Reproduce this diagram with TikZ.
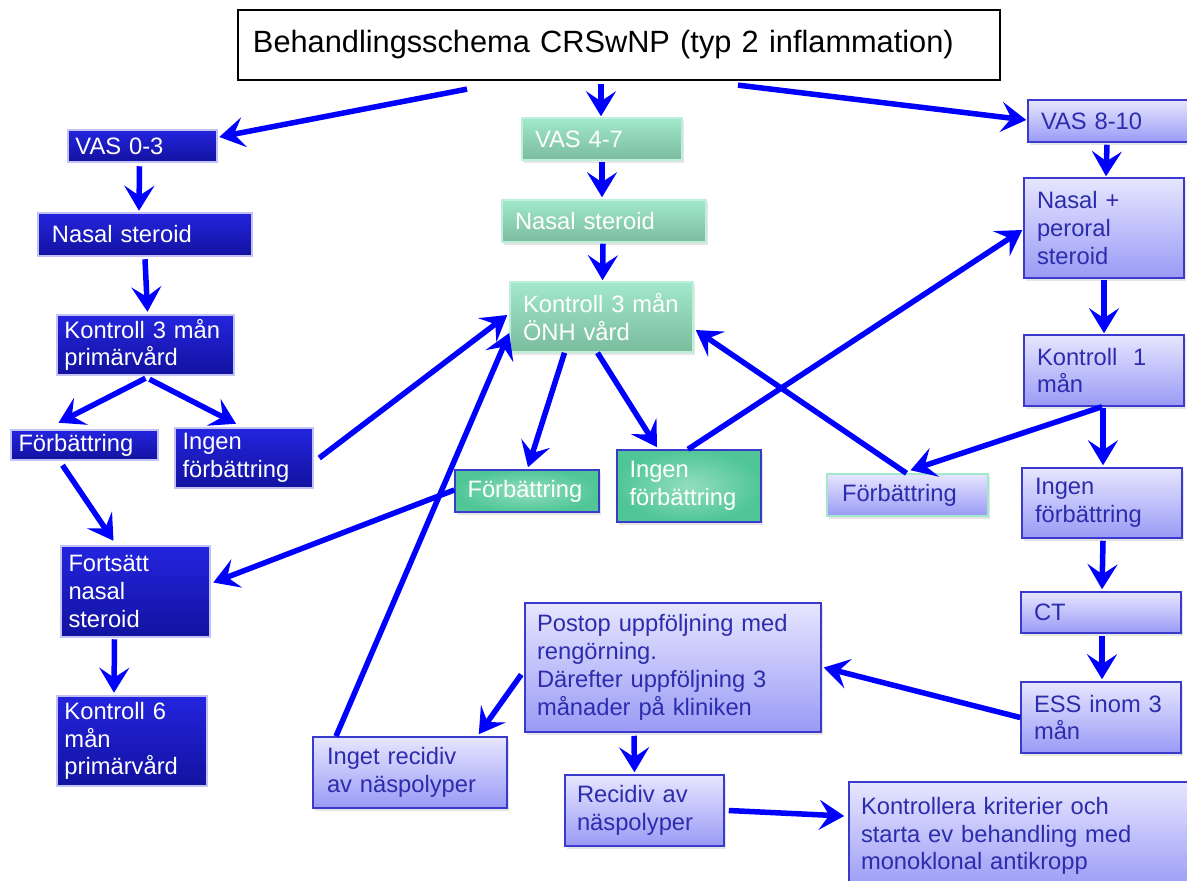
\documentclass[tikz,border=0pt]{standalone}
\usepackage{fontspec}
\setmainfont{Liberation Sans}
\usetikzlibrary{arrows.meta,calc,shadows}

\definecolor{navyTop}{RGB}{36,36,222}
\definecolor{navyBot}{RGB}{18,18,160}
\definecolor{mintTop}{RGB}{162,232,204}
\definecolor{mintBot}{RGB}{122,188,156}
\definecolor{jadeMid}{RGB}{146,222,188}
\definecolor{jadeOut}{RGB}{80,198,150}
\definecolor{lilacTop}{RGB}{230,230,255}
\definecolor{lilacBot}{RGB}{154,154,246}
\definecolor{lilacLine}{RGB}{58,58,205}
\definecolor{lilacText}{RGB}{44,44,172}
\definecolor{flowBlue}{RGB}{0,0,255}

\tikzset{
  box/.style={rectangle, inner ysep=0pt, align=left, font=\fontsize{13.5}{15.8}\selectfont},
  navybox/.style={box, top color=navyTop, bottom color=navyBot, draw=navyTop!28, line width=0.5mm, text=white, inner xsep=1.5mm},
  mintbox/.style={box, top color=mintTop, bottom color=mintBot, draw=mintTop!70, line width=0.3mm, text=white, inner xsep=2.6mm,
    drop shadow={shadow xshift=0.4mm, shadow yshift=-0.5mm, opacity=0.2}},
  jadebox/.style={box, inner color=jadeMid, outer color=jadeOut, draw=lilacLine, line width=0.3mm, text=white, inner xsep=2.5mm,
    drop shadow={shadow xshift=0.4mm, shadow yshift=-0.5mm, opacity=0.2}},
  lilacbox/.style={box, top color=lilacTop, bottom color=lilacBot, draw=lilacLine, line width=0.3mm, text=lilacText, inner xsep=2.6mm,
    drop shadow={shadow xshift=0.4mm, shadow yshift=-0.5mm, opacity=0.2}},
  flow/.style={draw=flowBlue, line width=1.1mm, -{Stealth[length=5mm,width=6mm,inset=2mm]}},
}

\begin{document}
\begin{tikzpicture}[x=0.2mm,y=-0.2mm]
  \fill[white] (0,0) rectangle (1187,880);
  \clip (0,0) rectangle (1187,880);

  % title
  \node[rectangle, draw=black, line width=0.45mm, fill=white, inner xsep=3mm, inner ysep=0pt,
        text width=146.4mm, minimum height=14mm, align=left,
        font=\fontsize{17.5}{21}\selectfont] (title) at (619,45) {Behandlingsschema CRSwNP (typ 2 inflammation)};

  % VAS 0-3
  \node[navybox, text width=26.8mm, minimum height=6.4mm] (vas03) at (142.5,146) {VAS 0-3};
  \node[navybox, inner xsep=2.8mm, text width=37.2mm, minimum height=8.6mm] (nasalA) at (145,234.5) {Nasal steroid};
  \node[navybox, text width=32.4mm, minimum height=12mm] (kprim) at (145.5,345) {Kontroll 3 mån\\primärvård};
  \node[navybox, text width=26.4mm, minimum height=6mm] (forbA) at (84.5,445) {Förbättring};
  \node[navybox, text width=24.6mm, minimum height=12mm] (ingenA) at (244,458) {Ingen\\förbättring};
  \node[navybox, text width=26.8mm, minimum height=18.2mm] (forts) at (135.5,591.5) {Fortsätt\\nasal\\steroid};
  \node[navybox, text width=27mm, minimum height=18mm] (ksex) at (132,741) {Kontroll 6\\mån\\primärvård};

  % VAS 4-7
  \node[mintbox, text width=26.8mm, minimum height=8.4mm] (vas47) at (602,139) {VAS 4-7};
  \node[mintbox, text width=35.6mm, minimum height=8.4mm] (nasalB) at (604,221) {Nasal steroid};
  \node[mintbox, text width=31.4mm, minimum height=14mm] (konh) at (601.5,317) {Kontroll 3 mån\\ÖNH vård};
  \node[jadebox, text width=23.8mm, minimum height=8.4mm] (forbB) at (527,491) {Förbättring};
  \node[jadebox, text width=23.8mm, minimum height=14.4mm] (ingenB) at (689,486) {Ingen\\förbättring};

  % VAS 8-10
  \node[lilacbox, text width=27.2mm, minimum height=8.4mm] (vas810) at (1109,121) {VAS 8-10};
  \node[lilacbox, text width=26.8mm, minimum height=20mm] (npero) at (1104,228) {Nasal +\\peroral\\steroid};
  \node[lilacbox, text width=26.8mm, minimum height=14.2mm] (kone) at (1104,370.5) {Kontroll~~1\\mån};
  \node[lilacbox, draw=mintTop, inner xsep=3mm, text width=26.2mm, minimum height=8.4mm] (forbC) at (907.5,495) {Förbättring};
  \node[lilacbox, text width=26.8mm, minimum height=14mm] (ingenC) at (1102,503) {Ingen\\förbättring};
  \node[lilacbox, text width=26.8mm, minimum height=8.2mm] (ct) at (1101,612.5) {CT};
  \node[lilacbox, text width=26.8mm, minimum height=14.2mm] (ess) at (1101,717.5) {ESS inom 3\\mån};
  \node[lilacbox, inner xsep=2.4mm, text width=54.4mm, minimum height=25.8mm] (postop) at (673,667.5) {Postop uppföljning med\\rengörning.\\Därefter uppföljning 3\\månader på kliniken};
  \node[lilacbox, inner xsep=2.8mm, text width=33.2mm, minimum height=14.2mm] (inget) at (410,772.5) {Inget recidiv\\av näspolyper};
  \node[lilacbox, inner xsep=2.4mm, text width=27mm, minimum height=14.2mm] (recid) at (644.5,810.5) {Recidiv av\\näspolyper};
  \node[lilacbox, inner xsep=2.4mm, text width=63.8mm, minimum height=21.6mm] (kontr) at (1020.5,836) {Kontrollera kriterier och\\starta ev behandling med\\monoklonal antikropp};

  % arrows
  \draw[flow] ($(title.south)+(-152,8)$) -- ($(vas03.east)+(1,-9)$);
  \draw[flow] ($(title.south)+(-18,3)$) -- ($(vas47.north)+(-1,-1)$);
  \draw[flow] ($(title.south)+(119,4)$) -- ($(vas810.west)+(-1,-1)$);
  \draw[flow] ($(vas03.south)+(-3,3)$) -- ($(nasalA.north)+(-6,-1)$);
  \draw[flow] ($(nasalA.south)+(0,2)$) -- ($(kprim.north)+(2,-2)$);
  \draw[flow] ($(kprim.south)+(0,2)$) -- ($(forbA.north)+(-26,-6)$);
  \draw[flow] ($(kprim.south)+(4,3)$) -- ($(ingenA.north)+(-8,-3)$);
  \draw[flow] ($(forbA.south)+(-22,4)$) -- ($(forts.north)+(-22,-4)$);
  \draw[flow] ($(ingenA.east)+(5,0)$) -- ($(konh.west)+(-2,-2)$);
  \draw[flow] ($(forts.south)+(-21,1)$) -- ($(ksex.north)+(-18,-2)$);
  \draw[flow] ($(vas47.south)+(0,1)$) -- ($(nasalB.north)+(-2,-2)$);
  \draw[flow] ($(nasalB.south)+(-1,1)$) -- ($(konh.north)+(1,-1)$);
  \draw[flow] ($(forbB.west)+(0,-1)$) -- ($(forts.east)+(2,-9)$);
  \draw[flow] ($(inget.north)+(-74,0)$) -- ($(konh.west)+(0,16)$);
  \draw[flow] ($(konh.south)+(-37,0)$) -- ($(forbB.north)+(1,-2)$);
  \draw[flow] ($(konh.south)+(-4,0)$) -- ($(ingenB.north)+(-32,-2)$);
  \draw[flow] ($(forbC.north)+(-1,0)$) -- ($(konh.east)+(2,13)$);
  \draw[flow] ($(ingenB.north)+(-1,0)$) -- ($(npero.west)+(-1,2)$);
  \draw[flow] ($(vas810.south)+(-2,2)$) -- ($(npero.north)+(2,-1)$);
  \draw[flow] ($(npero.south)+(0,1)$) -- ($(kone.north)+(0,-1)$);
  \draw[flow] ($(kone.south)+(-2,0)$) -- ($(forbC.north)+(3,-3)$);
  \draw[flow] ($(kone.south)+(-1,1)$) -- ($(ingenC.north)+(1,-2)$);
  \draw[flow] ($(ingenC.south)+(1,2)$) -- ($(ct.north)+(1,-2)$);
  \draw[flow] ($(ct.south)+(1,2)$) -- ($(ess.north)+(1,-2)$);
  \draw[flow] (ess.west) -- ($(postop.east)+(2,0)$);
  \draw[flow] ($(postop.west)+(-3,7)$) -- ($(inget.north east)+(-29,-2)$);
  \draw[flow] ($(postop.south)+(-39,3)$) -- ($(recid.north)+(-10,-2)$);
  \draw[flow] ($(recid.east)+(4,0)$) -- ($(kontr.west)+(-4,-20)$);
\end{tikzpicture}
\end{document}
